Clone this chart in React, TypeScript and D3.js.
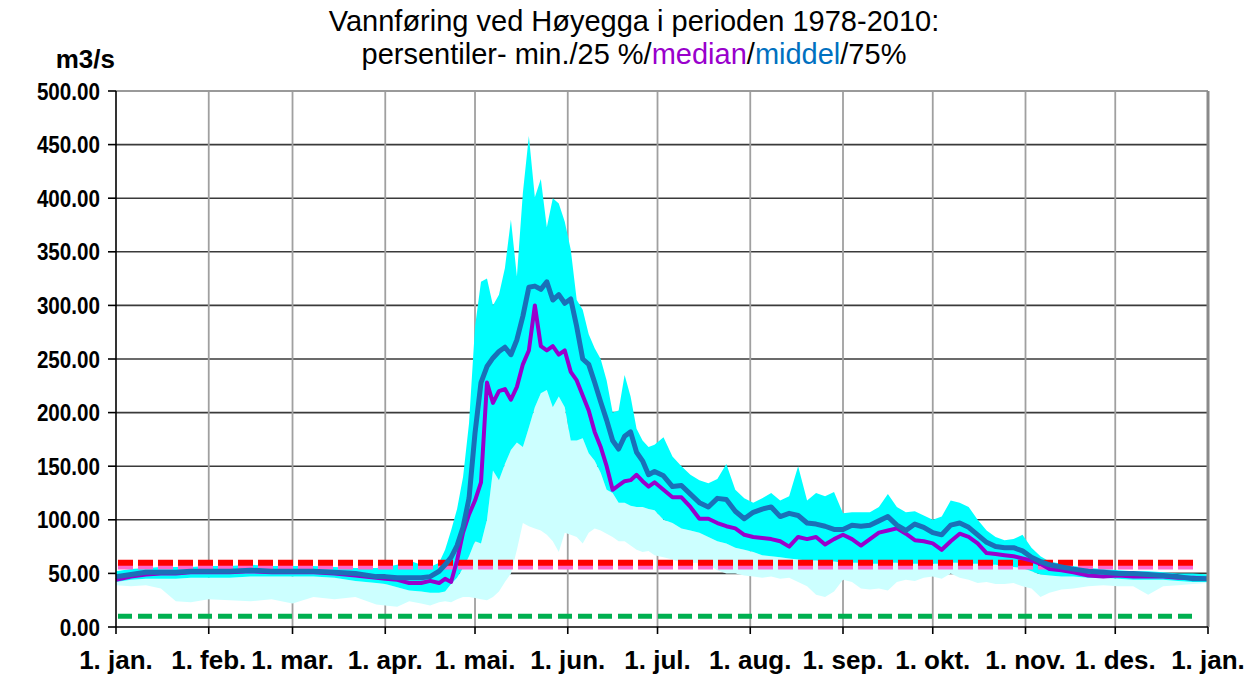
import React from "react";
import * as d3 from "d3";

// Day of year (0 = 1. jan.) for every sample
const days = [0,5,10,15,20,25,31,38,45,52,59,66,73,80,87,
  90,94,98,102,105,108,
  110,112,114,116,118,120,122,124,126,128,130,132,134,136,138,140,142,144,146,148,150,152,154,156,158,160,162,164,166,168,170,172,174,176,178,180,
  183,186,189,192,195,198,201,204,207,210,213,216,219,222,225,228,231,234,237,240,243,246,249,252,255,258,261,264,267,270,273,276,279,282,285,288,291,294,297,300,303,306,309,312,
  316,320,
  325,330,335,340,345,350,355,360,365];

const meanValues = [47,49,51,51,51,52,52,52,53,52,52,52,51,50,47,
  47,46,46,46,47,52,
  58,65,76,93,120,181,228,243,251,257,261,254,268,290,317,318,315,322,305,310,302,306,280,250,245,228,210,193,174,166,178,182,163,155,142,145,
  141,131,132,124,116,112,120,119,108,101,107,110,112,103,106,104,97,96,94,91,91,95,94,95,99,103,95,90,96,93,88,86,95,97,93,86,79,75,74,74,71,65,61,58,
  56,54,
  52,51,50,50,49,48,47,45,45];

const medianValues = [44,47,49,50,50,51,51,51,52,51,51,51,50,48,46,
  45,44,41,41,43,41,
  45,42,62,88,105,118,135,228,209,220,222,212,224,245,258,300,262,258,262,254,258,238,230,216,202,182,168,150,128,132,136,137,142,136,131,135,
  128,121,121,112,101,101,97,94,92,86,84,83,82,80,75,84,82,84,77,82,86,82,76,82,88,90,92,87,81,80,78,72,80,87,84,78,69,68,67,66,64,62,59,54,
  53,51,
  48,47,48,47,47,47,46,46,45];

const p75Values = [52,54,55,56,56,56,57,57,58,57,57,57,56,55,55,
  56,58,62,58,56,60,
  72,90,110,140,190,280,322,325,300,310,335,380,327,405,458,401,418,373,400,395,378,352,305,296,273,260,250,230,200,202,235,215,185,174,168,170,
  177,159,150,142,137,134,138,152,128,120,116,120,125,118,122,150,118,125,122,126,106,107,107,107,112,124,112,107,108,104,100,103,118,116,112,100,90,84,81,82,86,74,66,61,
  59,57,
  55,54,53,52,52,51,50,50,49];

const p25Values = [42,44,45,45,45,46,46,46,47,47,47,47,46,43,41,
  40,37,34,33,32,32,
  33,40,46,55,66,80,78,100,146,137,152,165,172,168,186,205,218,221,205,215,205,174,174,176,162,155,144,128,125,116,116,113,112,112,110,109,
  100,97,92,90,88,84,80,78,74,72,70,67,66,65,64,63,62,62,61,61,60,60,60,59,59,60,60,59,59,59,59,59,60,60,59,59,58,58,57,56,55,52,49,48,
  47,47,
  46,46,45,44,44,44,43,42,42];

const minValues = [39,38,39,36,24,23,26,25,24,26,22,28,26,28,21,
  20,19,24,22,20,23,
  24,23,26,28,28,27,26,25,28,33,42,50,72,97,94,92,90,86,80,70,88,86,84,78,88,92,90,87,84,80,80,76,72,70,71,67,
  65,63,60,60,60,58,53,50,50,48,47,46,47,45,46,42,38,30,28,33,44,42,36,35,36,34,42,44,43,46,47,45,50,46,44,41,42,40,40,41,38,36,28,32,
  35,36,
  38,39,38,38,30,38,39,40,41];

const monthDays = [0,31,59,90,120,151,181,212,243,273,304,334,365];
const monthLabels = ["1. jan.","1. feb.","1. mar.","1. apr.","1. mai.","1. jun.","1. jul.","1. aug.","1. sep.","1. okt.","1. nov.","1. des.","1. jan."];
const yTicks = [0,50,100,150,200,250,300,350,400,450,500];

// drawn in this order (pink under red)
const refLines = [
  { value: 56, color: "#ff66cc", width: 5, dash: "15 5" },
  { value: 60, color: "#ff0000", width: 6, dash: "15 5" },
  { value: 10, color: "#00b050", width: 5, dash: "14 6" },
];
const refEndDay = 361;

const FONT = "'Liberation Sans', Arial, sans-serif";

export default function App() {
  const W = 1258, H = 675;
  const x = d3.scaleLinear().domain([0, 365]).range([116, 1208]);
  const y = d3.scaleLinear().domain([0, 500]).range([627, 91]);

  const rows = days.map((d, i) => ({
    d, mean: meanValues[i], median: medianValues[i], p75: p75Values[i], p25: p25Values[i], min: minValues[i],
  }));

  const lowBand = d3.area<any>().x(r => x(r.d)).y0(r => y(r.min)).y1(r => y(r.p25))(rows) || "";
  const midBand = d3.area<any>().x(r => x(r.d)).y0(r => y(r.p25)).y1(r => y(r.p75))(rows) || "";
  const meanLine = d3.line<any>().x(r => x(r.d)).y(r => y(r.mean))(rows) || "";
  const medianLine = d3.line<any>().x(r => x(r.d)).y(r => y(r.median))(rows) || "";
  const fmt = d3.format(".2f");

  return (
    <svg width={W} height={H} style={{ position: "absolute", left: 0, top: 0, background: "#fff" }} fontFamily={FONT}>
      <rect x={0} y={0} width={W} height={H} fill="#fff" />
      {/* horizontal gridlines */}
      {yTicks.filter(t => t > 0 && t < 500).map(t => (
        <line key={"h" + t} x1={x(0)} x2={x(365)} y1={y(t)} y2={y(t)} stroke="#3a3a3a" strokeWidth={1.6} />
      ))}
      {/* vertical gridlines */}
      {monthDays.slice(1, -1).map(d => (
        <line key={"v" + d} x1={x(d)} x2={x(d)} y1={y(500)} y2={y(0)} stroke="#a0a0a0" strokeWidth={1.8} />
      ))}
      {/* bands */}
      <path d={lowBand} fill="#ccffff" />
      <path d={midBand} fill="#00ffff" />
      {/* reference lines */}
      {refLines.map(r => (
        <line key={"r" + r.value} x1={x(0) + 2} x2={x(refEndDay)} y1={y(r.value)} y2={y(r.value)}
          stroke={r.color} strokeWidth={r.width} strokeDasharray={r.dash} />
      ))}
      {/* series lines */}
      <path d={medianLine} fill="none" stroke="#9900cc" strokeWidth={4} strokeLinejoin="round" />
      <path d={meanLine} fill="none" stroke="#1a70b8" strokeWidth={5} strokeLinejoin="round" />
      {/* borders */}
      <line x1={x(0)} x2={x(365)} y1={y(500)} y2={y(500)} stroke="#9a9a9a" strokeWidth={2.2} />
      <line x1={x(365)} x2={x(365)} y1={y(500)} y2={y(0)} stroke="#8a8a8a" strokeWidth={3} />
      <line x1={x(0)} x2={x(365)} y1={y(0)} y2={y(0)} stroke="#000" strokeWidth={1.6} />
      <line x1={x(0)} x2={x(0)} y1={y(500)} y2={y(0)} stroke="#000" strokeWidth={1.6} />
      {/* y ticks & labels */}
      {yTicks.map(t => (
        <g key={"yt" + t}>
          <line x1={x(0) - 8} x2={x(0)} y1={y(t)} y2={y(t)} stroke="#000" strokeWidth={1.6} />
          <text transform={`translate(100,${y(t)}) scale(0.86,1)`} dy="0.36em" textAnchor="end" fontSize={24} fontWeight="bold" fill="#000">{fmt(t)}</text>
        </g>
      ))}
      {/* x ticks & labels */}
      {monthDays.map((d, i) => (
        <g key={"xt" + i}>
          <line x1={x(d)} x2={x(d)} y1={y(0)} y2={y(0) + 7} stroke="#000" strokeWidth={1.6} />
          <text x={x(d)} y={669} textAnchor="middle" fontSize={26} fontWeight="bold" fill="#000">{monthLabels[i]}</text>
        </g>
      ))}
      {/* unit */}
      <text x={115} y={68} textAnchor="end" fontSize={26} fontWeight="bold" fill="#000">m3/s</text>
      {/* title */}
      <text x={634} y={31} textAnchor="middle" fontSize={29} fill="#000">Vannføring ved Høyegga i perioden 1978-2010:</text>
      <text x={634} y={64} textAnchor="middle" fontSize={29} fill="#000">
        <tspan>persentiler- min./25 %/</tspan>
        <tspan fill="#9900cc">median</tspan>
        <tspan>/</tspan>
        <tspan fill="#0070c0">middel</tspan>
        <tspan>/75%</tspan>
      </text>
    </svg>
  );
}
